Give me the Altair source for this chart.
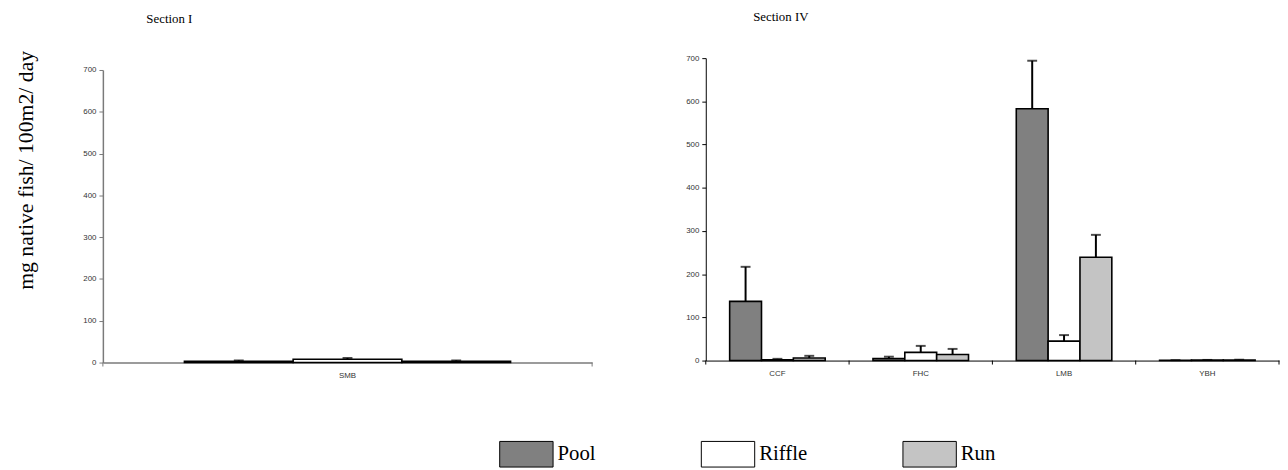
import altair as alt
import pandas as pd

habitats = ["Pool", "Riffle", "Run"]
habitat_colors = ["#808080", "#ffffff", "#c4c4c4"]

# Section I
sec1_species = ["SMB"]
sec1_pool = [3]
sec1_riffle = [8]
sec1_run = [3]
sec1_pool_err = [2]
sec1_riffle_err = [3]
sec1_run_err = [2]

# Section IV
sec4_species = ["CCF", "FHC", "LMB", "YBH"]
sec4_pool = [137, 5, 583, 0.5]
sec4_riffle = [2, 19, 45, 1]
sec4_run = [6, 14, 239, 1.5]
sec4_pool_err = [80, 4, 111, 0.5]
sec4_riffle_err = [2, 15, 14, 0.5]
sec4_run_err = [5, 13, 52, 0.5]

y_ticks = [0, 100, 200, 300, 400, 500, 600, 700]
y_title = "mg native fish/ 100m2/ day"


def build_df(species, means, errs):
    rows = []
    for h, m_list, e_list in zip(habitats, means, errs):
        for s, m, e in zip(species, m_list, e_list):
            rows.append({"species": s, "habitat": h, "mean": m, "err": e})
    return pd.DataFrame(rows)


df1 = build_df(sec1_species, [sec1_pool, sec1_riffle, sec1_run],
               [sec1_pool_err, sec1_riffle_err, sec1_run_err])
df4 = build_df(sec4_species, [sec4_pool, sec4_riffle, sec4_run],
               [sec4_pool_err, sec4_riffle_err, sec4_run_err])

SANS = "Liberation Sans"
SERIF = "Liberation Serif"


def panel(df, species, width, height, yrange, title, title_dx, title_offset,
          axis_color, domain_width, left_title, legend):
    xscale = alt.Scale(paddingInner=0, paddingOuter=0)
    xenc = alt.X("species:N", sort=species, title=None, scale=xscale,
                 axis=alt.Axis(ticks=False, labelPadding=9, labelFont=SANS,
                               labelFontSize=8, labelColor="#333",
                               domainColor=axis_color, domainWidth=domain_width,
                               labelAngle=0))
    xplain = alt.X("species:N", sort=species, scale=xscale)
    xoff = alt.XOffset("habitat:N", sort=habitats,
                       scale=alt.Scale(paddingOuter=0.75, paddingInner=0))
    yaxis_kwargs = dict(values=y_ticks, tickSize=4, tickColor=axis_color,
                        domainColor=axis_color, domainWidth=domain_width,
                        labelFont=SANS, labelFontSize=8, labelColor="#333",
                        grid=False, labelPadding=3)
    if left_title:
        yaxis_kwargs.update(title=y_title, titleFont=SERIF, titleFontSize=22,
                            titleFontWeight="normal", titleColor="black",
                            titleX=-71, titleY=113, titleAngle=270,
                            titleAlign="center", titleBaseline="alphabetic")
    else:
        yaxis_kwargs.update(title=None)
    yscale = alt.Scale(domain=[0, 700], range=yrange)
    color = alt.Color("habitat:N", sort=habitats,
                      scale=alt.Scale(domain=habitats, range=habitat_colors),
                      legend=legend)

    bars = alt.Chart(df).mark_bar(stroke="black", strokeWidth=1.6).encode(
        x=xenc, xOffset=xoff,
        y=alt.Y("mean:Q", scale=yscale, axis=alt.Axis(**yaxis_kwargs)),
        color=color,
    )
    err = alt.Chart(df).transform_calculate(upper="datum.mean + datum.err").mark_rule(
        color="black", strokeWidth=2).encode(
        x=xplain, xOffset=xoff,
        y=alt.Y("mean:Q"),
        y2="upper:Q",
    )
    caps = alt.Chart(df).transform_calculate(upper="datum.mean + datum.err").mark_tick(
        color="black", thickness=2, size=10, orient="horizontal").encode(
        x=xplain, xOffset=xoff,
        y=alt.Y("upper:Q"),
    )
    sp = pd.DataFrame({"species": species})
    xticks = alt.Chart(sp).mark_rule(color=axis_color, strokeWidth=1).encode(
        x=alt.X("species:N", sort=species, bandPosition=0, scale=xscale),
        y=alt.value(height), y2=alt.value(height + 4),
    )
    xtick_end = alt.Chart(pd.DataFrame({"species": species[:1]})).mark_rule(
        color=axis_color, strokeWidth=1).encode(
        x=alt.value(width), y=alt.value(height), y2=alt.value(height + 4),
    )
    return alt.layer(bars, err, caps, xticks, xtick_end).properties(
        width=width, height=height,
        title=alt.TitleParams(title, anchor="start", frame="group", dx=title_dx,
                              offset=title_offset, font=SERIF, fontSize=13,
                              fontWeight="normal", color="black"),
    )


left = panel(df1, sec1_species, 495, 308, [308, 12], "Section I", 44, 25,
             "#7a7a7a", 1.5, True, None)

legend = alt.Legend(
    orient="none", legendX=-209, legendY=373, direction="horizontal",
    title=None, columns=3, gridAlign="all", columnPadding=94,
    symbolType="M-1,-0.48H1V0.48H-1Z", symbolSize=2916,
    symbolStrokeColor="black", symbolStrokeWidth=1, symbolOpacity=1,
    labelFont=SERIF, labelFontSize=21, labelColor="black", labelOffset=4,
    padding=0,
)
right = panel(df4, sec4_species, 580, 306, [306, 0], "Section IV", 48, 31,
              "black", 1, False, legend)

chart = alt.hconcat(left, right, spacing=115, bounds="flush").resolve_scale(
    xOffset="independent"
).resolve_legend(
    color="independent"
).configure_view(stroke=None).properties(
    padding={"left": 6, "top": 0, "right": 0, "bottom": 0}
)

chart.save("out.html", embed_options={"renderer": "svg", "actions": False})
